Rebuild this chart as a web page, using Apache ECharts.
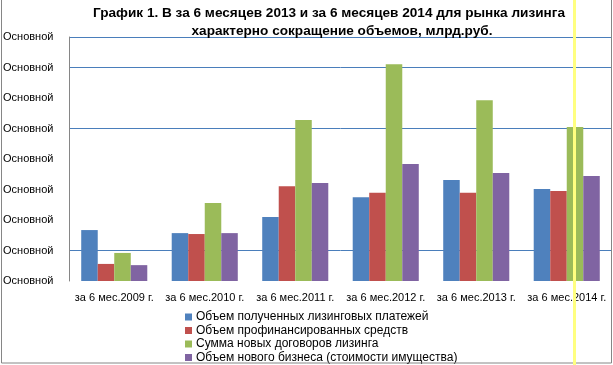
<!DOCTYPE html>
<html>
<head>
<meta charset="utf-8">
<script src="https://cdn.jsdelivr.net/npm/echarts@6/dist/echarts.min.js"></script>
<style>
html,body{margin:0;padding:0;background:#fff;}
#c{width:613px;height:365px;}
</style>
</head>
<body>
<div id="c"></div>
<script>
const titleLine1 = 'График 1. В за 6 месяцев 2013 и за 6 месяцев 2014 для рынка лизинга';
const titleLine2 = 'характерно сокращение объемов, млрд.руб.';
const categories = ['за 6 мес.2009 г.', 'за 6 мес.2010 г.', 'за 6 мес.2011 г.', 'за 6 мес.2012 г.', 'за 6 мес.2013 г.', 'за 6 мес.2014 г.'];
const seriesNames = ['Объем полученных лизинговых платежей', 'Объем профинансированных средств', 'Сумма новых договоров лизинга', 'Объем нового бизнеса (стоимости имущества)'];
const payments = [1.67, 1.57, 2.10, 2.75, 3.31, 3.02];
const financed = [0.56, 1.54, 3.11, 2.89, 2.89, 2.95];
const newContracts = [0.92, 2.56, 5.28, 7.11, 5.93, 5.05];
const newBusiness = [0.52, 1.57, 3.21, 3.84, 3.54, 3.44];
const yTickLabel = 'Основной';
const yMin = 0, yMax = 8, yInterval = 1;
const gridLineValues = [1, 5, 7, 8];

const colors = ['#4F81BD', '#C0504D', '#9BBB59', '#8064A2'];
const gridBlue = '#4A7EBB';
const splitColors = [];
for (let v = yMin; v <= yMax; v += yInterval) {
  splitColors.push(gridLineValues.indexOf(v) >= 0 ? gridBlue : 'rgba(0,0,0,0)');
}
const font = 'Liberation Sans';
const allData = [payments, financed, newContracts, newBusiness];

const chart = echarts.init(document.getElementById('c'), null, {renderer: 'canvas'});
chart.setOption({
  backgroundColor: '#fff',
  animation: false,
  title: [
    {text: titleLine1, left: 324, top: 1, textAlign: 'center',
     textStyle: {fontFamily: font, fontWeight: 'bold', fontSize: 13.6, color: '#000'}},
    {text: titleLine2, left: 337, top: 19, textAlign: 'center',
     textStyle: {fontFamily: font, fontWeight: 'bold', fontSize: 13.6, color: '#000'}}
  ],
  grid: {left: 69, right: 1, top: 37, bottom: 84, containLabel: false},
  xAxis: {
    type: 'category', data: categories,
    axisLine: {show: false}, axisTick: {show: false},
    axisLabel: {fontFamily: font, fontSize: 11, color: '#000', margin: 11, interval: 0}
  },
  yAxis: {
    type: 'value', min: yMin, max: yMax, interval: yInterval,
    axisLine: {show: true, lineStyle: {color: '#868686', width: 1}},
    axisTick: {show: false},
    axisLabel: {fontFamily: font, fontSize: 11, color: '#000', align: 'left', margin: 66,
      formatter: function () { return yTickLabel; }},
    splitLine: {show: true, lineStyle: {color: splitColors, width: 1}}
  },
  legend: {
    orient: 'vertical', left: 185, top: 311, height: 60, padding: 0,
    itemWidth: 7, itemHeight: 7, itemGap: 1.5, icon: 'rect',
    textStyle: {fontFamily: font, fontSize: 12, color: '#000', padding: [0, 0, 0, -1]},
    data: seriesNames
  },
  series: seriesNames.map((n, i) => ({
    name: n, type: 'bar', data: allData[i],
    itemStyle: {color: colors[i]},
    barGap: '0%', barCategoryGap: '27%'
  })),
  graphic: [
    {type: 'rect', shape: {x: 1.5, y: -3, width: 610, height: 366}, silent: true,
     style: {fill: 'none', stroke: '#868686', lineWidth: 1}, z: 100},
    {type: 'line', shape: {x1: 574.5, y1: 0, x2: 574.5, y2: 365}, silent: true,
     style: {stroke: '#FFFF80', lineWidth: 3}, z: 101}
  ]
});
</script>
</body>
</html>
